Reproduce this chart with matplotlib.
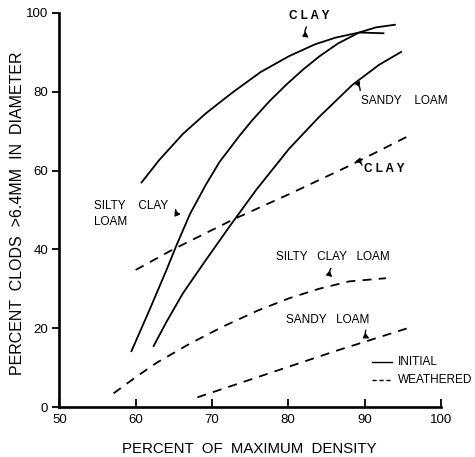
import matplotlib
matplotlib.use("Agg")
import matplotlib.pyplot as plt

plt.rcParams['font.family'] = ['Liberation Sans', 'DejaVu Sans']

# Initial (solid) curves
clay_init_x = [60.7, 63.1, 66.2, 69.2, 72.7, 76.4, 80.1, 83.5, 86.2, 89.3, 92.6]
clay_init_y = [56.8, 62.7, 69.3, 74.5, 79.8, 85.0, 89.0, 92.0, 93.7, 95.0, 94.8]

scl_init_x = [59.4, 61.8, 64.0, 65.3, 67.1, 69.2, 71.0, 73.6, 75.3, 77.5, 79.7, 82.0, 84.05, 86.5, 89.3, 91.5, 94.1]
scl_init_y = [14.0, 24.6, 34.6, 40.8, 48.9, 56.4, 62.2, 68.8, 72.8, 77.5, 81.7, 85.7, 88.9, 92.2, 95.0, 96.3, 97.0]

sl_init_x = [62.3, 64.0, 66.2, 69.2, 72.3, 75.8, 80.1, 84.0, 88.4, 91.9, 94.9]
sl_init_y = [15.3, 21.5, 28.9, 37.3, 45.8, 55.1, 65.5, 73.5, 81.7, 86.8, 90.2]

# Weathered (dashed) curves
clay_w_x = [60.0, 64.9, 72.9, 80.1, 88.0, 95.6]
clay_w_y = [34.8, 40.0, 47.7, 54.0, 61.2, 68.6]

scl_w_x = [57.1, 60.0, 62.7, 67.0, 71.4, 76.0, 80.1, 84.0, 88.0, 92.8]
scl_w_y = [3.5, 7.6, 11.2, 16.0, 20.4, 24.5, 27.6, 30.0, 31.9, 32.7]

sl_w_x = [68.1, 77.5, 86.3, 96.1]
sl_w_y = [2.5, 8.6, 14.3, 20.3]

xticks = [50, 60, 70, 80, 90, 100]
yticks = [0, 20, 40, 60, 80, 100]

fig = plt.figure(figsize=(4.75, 4.57), dpi=100)
ax = fig.add_axes([0.125, 0.109, 0.803, 0.863])

lw = 1.3
dash = (0, (5, 4))
for xs, ys in [(clay_init_x, clay_init_y), (scl_init_x, scl_init_y), (sl_init_x, sl_init_y)]:
    ax.plot(xs, ys, color='black', lw=lw, solid_capstyle='butt', solid_joinstyle='round')
for xs, ys in [(clay_w_x, clay_w_y), (scl_w_x, scl_w_y), (sl_w_x, sl_w_y)]:
    ax.plot(xs, ys, color='black', lw=lw, linestyle=dash)

ax.set_xlim(50, 100)
ax.set_ylim(0, 100)
ax.set_xticks(xticks)
ax.set_yticks(yticks)
ax.set_xticklabels([str(t) for t in xticks], fontsize=9.5)
ax.set_yticklabels([str(t) for t in yticks], fontsize=9.5)
ax.tick_params(axis='x', direction='in', length=6, width=1.3, pad=5)
ax.tick_params(axis='y', direction='out', length=5, width=1.3, pad=3)
for s in ['top', 'right']:
    ax.spines[s].set_visible(False)
for s in ['left', 'bottom']:
    ax.spines[s].set_linewidth(1.9)

ax.set_xlabel('PERCENT  OF  MAXIMUM  DENSITY', fontsize=10.8)
ax.set_ylabel('PERCENT  CLODS  >6.4MM  IN  DIAMETER', fontsize=11.5)
ax.xaxis.set_label_coords(0.497, -0.088)
ax.yaxis.set_label_coords(-0.09, 0.492)

fs = 8.5
ax.text(82.8, 99.2, 'C L A Y', fontsize=fs, fontweight='bold', ha='center', va='center')
ax.text(89.6, 77.7, 'SANDY    LOAM', fontsize=fs, ha='left', va='center')
ax.text(89.9, 60.4, 'C L A Y', fontsize=fs, fontweight='bold', ha='left', va='center')
ax.text(54.5, 51.0, 'SILTY    CLAY', fontsize=fs, ha='left', va='center')
ax.text(54.5, 47.0, 'LOAM', fontsize=fs, ha='left', va='center')
ax.text(78.4, 38.0, 'SILTY   CLAY   LOAM', fontsize=fs, ha='left', va='center')
ax.text(79.7, 22.0, 'SANDY   LOAM', fontsize=fs, ha='left', va='center')

arrow_kw = dict(arrowstyle='-|>,head_length=0.3,head_width=0.15', color='black', lw=1.0,
                connectionstyle='arc3,rad=0.6')
ax.annotate('', xy=(83.0, 93.3), xytext=(82.6, 97.0), arrowprops=arrow_kw)
ax.annotate('', xy=(88.2, 82.2), xytext=(89.4, 79.6), arrowprops=arrow_kw)
ax.annotate('', xy=(88.4, 62.0), xytext=(89.8, 60.7), arrowprops=arrow_kw)
ax.annotate('', xy=(66.3, 49.0), xytext=(65.2, 50.8), arrowprops=arrow_kw)
ax.annotate('', xy=(86.1, 32.6), xytext=(85.8, 35.8), arrowprops=arrow_kw)
ax.annotate('', xy=(91.0, 17.2), xytext=(90.3, 20.2), arrowprops=arrow_kw)

# legend
leg_x = [91.0, 93.6]
ax.plot(leg_x, [11.4, 11.4], color='black', lw=1.0, clip_on=False)
ax.plot(leg_x, [6.9, 6.9], color='black', lw=1.0, linestyle=(0, (3, 2)), clip_on=False)
ax.text(94.4, 11.4, 'INITIAL', fontsize=8.5, ha='left', va='center')
ax.text(94.4, 6.9, 'WEATHERED', fontsize=8.5, ha='left', va='center')

fig.savefig('out.png', dpi=100)
